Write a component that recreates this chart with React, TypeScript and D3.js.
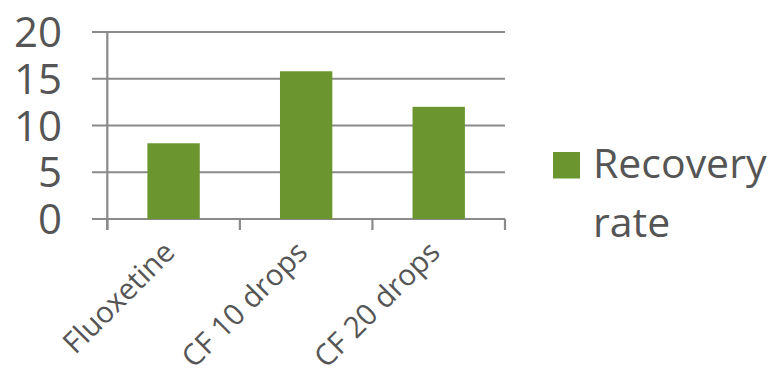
import React from "react";
import * as d3 from "d3";

const categories = ["Fluoxetine", "CF 10 drops", "CF 20 drops"];
const recoveryRate = [8.1, 15.8, 12];
const yTicks = [0, 5, 10, 15, 20];
const seriesName = ["Recovery", "rate"];

const W = 773;
const H = 371;
const FONT = "'Open Sans', 'DejaVu Sans', sans-serif";
const TEXT = "#555555";
const GRID = "#8a8a8a";
const BAR = "#6B962F";

export default function App() {
  const plotLeft = 107.3;
  const plotRight = 505;
  const y = d3.scaleLinear().domain([0, 20]).range([219, 32]);
  const x = d3.scaleBand<string>().domain(categories).range([plotLeft, plotRight]).padding(0);
  const barW = x.bandwidth() * 0.395;
  const boundaries = [...categories.map((c) => x(c) as number), plotRight];

  return (
    <svg
      width={W}
      height={H}
      style={{ position: "absolute", left: 0, top: 0, background: "#fff" }}
      fontFamily={FONT}
    >
      {/* horizontal gridlines */}
      {yTicks.map((t) => (
        <line key={`g${t}`} x1={92} x2={plotRight} y1={y(t)} y2={y(t)} stroke={GRID} strokeWidth={2.2} />
      ))}
      {/* vertical axis line */}
      <line x1={plotLeft} x2={plotLeft} y1={y(20)} y2={y(0) + 11} stroke={GRID} strokeWidth={2.2} />
      {/* category tick marks */}
      {boundaries.map((b, i) => (
        <line key={`t${i}`} x1={b} x2={b} y1={y(0)} y2={y(0) + 11} stroke={GRID} strokeWidth={2.2} />
      ))}
      {/* bars */}
      {categories.map((c, i) => (
        <rect
          key={c}
          x={(x(c) as number) + (x.bandwidth() - barW) / 2}
          y={y(recoveryRate[i])}
          width={barW}
          height={y(0) - y(recoveryRate[i])}
          fill={BAR}
        />
      ))}
      {/* y tick labels */}
      {yTicks.map((t) => (
        <text key={`l${t}`} x={62} y={y(t)} dy="0.36em" textAnchor="end" fontSize={42} fill={TEXT}>
          {t}
        </text>
      ))}
      {/* category labels */}
      {categories.map((c) => {
        const cx = (x(c) as number) + x.bandwidth() / 2 + 3;
        return (
          <text
            key={`c${c}`}
            transform={`translate(${cx},254) rotate(-45)`}
            textAnchor="end"
            fontSize={29.5}
            fill={TEXT}
          >
            {c}
          </text>
        );
      })}
      {/* legend */}
      <rect x={553} y={152} width={27} height={26.5} fill={BAR} />
      <text x={593} y={178} fontSize={41} fill={TEXT}>
        {seriesName[0]}
      </text>
      <text x={593} y={237} fontSize={41} fill={TEXT}>
        {seriesName[1]}
      </text>
    </svg>
  );
}
